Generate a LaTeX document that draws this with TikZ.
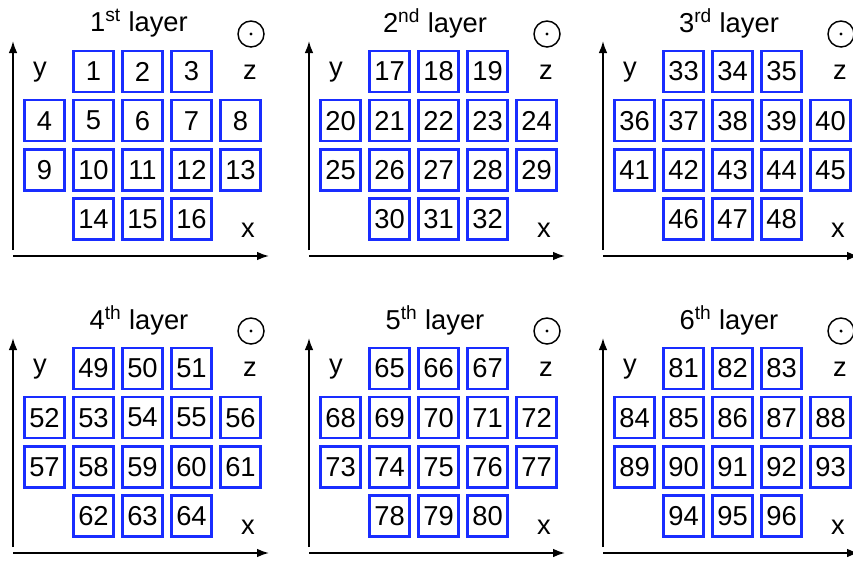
\documentclass[tikz,border=0pt]{standalone}
\usepackage{fontspec}
\setmainfont{Liberation Sans}
\usetikzlibrary{arrows.meta}
\definecolor{boxblue}{RGB}{25,45,255}
\begin{document}
\begin{tikzpicture}[x=0.75pt,y=-0.75pt,
  txt/.style={font=\fontsize{20.5}{22}\selectfont, inner sep=0pt},
  cell/.style={txt, draw=boxblue, line width=1.7pt, minimum width=30pt, minimum height=30.75pt},
  axis/.style={line width=1.3pt, -{Latex[length=9pt,width=6.5pt]}},
  zsym/.style={circle, draw, line width=1.1pt, minimum size=19.5pt, inner sep=0pt}]
\useasboundingbox (0,0) rectangle (853,561);
\foreach \p/\ox/\oy/\ttl in {1/0/0/1\textsuperscript{st}, 2/296/0/2\textsuperscript{nd}, 3/590/0/3\textsuperscript{rd}, 4/0/297/4\textsuperscript{th}, 5/296/297/5\textsuperscript{th}, 6/590/297/6\textsuperscript{th}} {
  \begin{scope}[shift={(\ox,\oy)}]
    \node[txt] (t\p) at (139,23) {\ttl{} layer};
    \node[zsym] (o\p) at (251,34) {};
    \fill (o\p.center) circle (1.3pt);
    \node[txt] (ly\p) at (40,72) {y};
    \node[txt] (lz\p) at (250,72) {z};
    \node[txt] (lx\p) at (248,230) {x};
    \coordinate (yb\p) at (13,250);
    \coordinate (yt\p) at (13,41);
    \coordinate (xl\p) at (13,256);
    \coordinate (xr\p) at (269,256);
    \draw[axis] (yb\p) -- (yt\p);
    \draw[axis] (xl\p) -- (xr\p);
    \foreach \r/\c/\k in {1/2/1,1/3/2,1/4/3,
                          2/1/4,2/2/5,2/3/6,2/4/7,2/5/8,
                          3/1/9,3/2/10,3/3/11,3/4/12,3/5/13,
                          4/2/14,4/3/15,4/4/16} {
      \pgfmathtruncatemacro\n{16*(\p-1)+\k}
      \node[cell] (b\n) at ({44.5+49*(\c-1)},{71.5+49.2*(\r-1)}) {\n};
    }
  \end{scope}
}
\end{tikzpicture}
\end{document}
